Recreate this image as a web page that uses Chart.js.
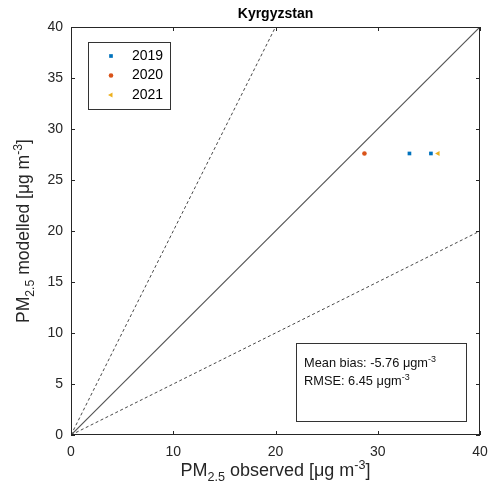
<!DOCTYPE html>
<html>
<head>
<meta charset="utf-8">
<script src="https://cdn.jsdelivr.net/npm/chart.js@4/dist/chart.umd.min.js"></script>
<style>
  html, body { margin: 0; padding: 0; background: #fff; }
  #wrap { width: 488px; height: 495px; position: relative; }
</style>
</head>
<body>
<div id="wrap"><canvas id="c" width="488" height="495"></canvas></div>
<script>
// data
const years = ['2019', '2020', '2021'];
const observed = [[33.1, 35.2], [28.7], [35.9]];
const modelled = [[27.6, 27.6], [27.6], [27.6]];
const colors = ['#0072BD', '#D95319', '#EDB120'];
const markers = ['rect', 'circle', 'triangle'];
const xTicks = [0, 10, 20, 30, 40];
const yTicks = [0, 5, 10, 15, 20, 25, 30, 35, 40];
const refSlopes = [1, 2, 0.5];
const meanBias = '-5.76';
const rmse = '6.45';

const FONT = '"Liberation Sans", Arial, sans-serif';
const AXIS = '#262626';

const refSets = refSlopes.map(s => {
  const xEnd = Math.min(40, 40 / s);
  return {
    type: 'line',
    data: [{x: 0, y: 0}, {x: xEnd, y: xEnd * s}],
    borderColor: s === 1 ? '#555' : '#333',
    borderWidth: s === 1 ? 1.2 : 0.9,
    borderDash: s === 1 ? [] : [3, 2.5],
    pointRadius: 0,
    fill: false,
  };
});

const pointSets = years.map((yr, i) => ({
  type: 'scatter',
  label: yr,
  data: observed[i].map((v, j) => ({x: v, y: modelled[i][j]})),
  backgroundColor: colors[i],
  borderColor: colors[i],
  pointStyle: markers[i],
  rotation: markers[i] === 'triangle' ? -90 : 0,
  pointRadius: markers[i] === 'circle' ? 2.3 : markers[i] === 'triangle' ? 3 : 2.6,
  borderWidth: 0,
}));

// draw text with sub/superscripts
function rich(ctx, parts, x, y, size, align) {
  let w = 0;
  parts.forEach(p => {
    ctx.font = (p.s ? size * 0.7 : size) + 'px ' + FONT;
    p.w = ctx.measureText(p.t).width;
    w += p.w;
  });
  let cx = align === 'center' ? x - w / 2 : x;
  ctx.textAlign = 'left';
  ctx.textBaseline = 'alphabetic';
  parts.forEach(p => {
    ctx.font = (p.s ? size * 0.7 : size) + 'px ' + FONT;
    let dy = p.s === 'sub' ? size * 0.3 : p.s === 'sup' ? -size * 0.4 : 0;
    ctx.fillText(p.t, cx, y + dy);
    cx += p.w;
  });
}

const decor = {
  id: 'decor',
  afterDraw(chart) {
    const ctx = chart.ctx;
    const a = chart.chartArea;
    const xs = chart.scales.x, ys = chart.scales.y;
    ctx.save();
    ctx.strokeStyle = AXIS;
    ctx.lineWidth = 1;
    ctx.strokeRect(a.left + 0.5, a.top + 0.5, a.right - a.left - 1, a.bottom - a.top - 1);
    ctx.beginPath();
    xTicks.forEach(v => {
      const px = Math.round(xs.getPixelForValue(v)) + 0.5;
      ctx.moveTo(px, a.bottom); ctx.lineTo(px, a.bottom - 4);
      ctx.moveTo(px, a.top); ctx.lineTo(px, a.top + 4);
    });
    yTicks.forEach(v => {
      const py = Math.round(ys.getPixelForValue(v)) + 0.5;
      ctx.moveTo(a.left, py); ctx.lineTo(a.left + 4, py);
      ctx.moveTo(a.right, py); ctx.lineTo(a.right - 4, py);
    });
    ctx.stroke();

    // title
    ctx.fillStyle = '#000';
    ctx.font = 'bold 14px ' + FONT;
    ctx.textAlign = 'center';
    ctx.textBaseline = 'alphabetic';
    ctx.fillText('Kyrgyzstan', (a.left + a.right) / 2, 18);

    // axis labels
    ctx.fillStyle = '#262626';
    rich(ctx, [{t: 'PM'}, {t: '2.5', s: 'sub'}, {t: ' observed [\u03bcg m'}, {t: '-3', s: 'sup'}, {t: ']'}],
      (a.left + a.right) / 2, 476, 18, 'center');
    ctx.save();
    ctx.translate(29, (a.top + a.bottom) / 2);
    ctx.rotate(-Math.PI / 2);
    rich(ctx, [{t: 'PM'}, {t: '2.5', s: 'sub'}, {t: ' modelled [\u03bcg m'}, {t: '-3', s: 'sup'}, {t: ']'}],
      0, 0, 17.5, 'center');
    ctx.restore();

    // legend
    ctx.fillStyle = '#fff';
    ctx.fillRect(88, 42, 82, 67);
    ctx.strokeStyle = '#333';
    ctx.strokeRect(88.5, 42.5, 82, 67);
    pointSets.forEach((ds, i) => {
      const ly = 56 + i * 19.5;
      ctx.fillStyle = ds.backgroundColor;
      ctx.strokeStyle = ds.backgroundColor;
      Chart.helpers.drawPoint(ctx, {
        pointStyle: ds.pointStyle, rotation: ds.rotation, radius: ds.pointRadius, borderWidth: 0
      }, 111, ly);
      ctx.fillStyle = '#000';
      ctx.font = '14px ' + FONT;
      ctx.textAlign = 'left';
      ctx.textBaseline = 'middle';
      ctx.fillText(ds.label, 132, ly);
    });

    // stats box
    ctx.fillStyle = '#fff';
    ctx.fillRect(296, 343, 170, 78);
    ctx.strokeStyle = '#333';
    ctx.strokeRect(296.5, 343.5, 170, 78);
    ctx.fillStyle = '#111';
    rich(ctx, [{t: 'Mean bias: ' + meanBias + ' \u03bcgm'}, {t: '-3', s: 'sup'}], 304, 367, 12.8, 'left');
    rich(ctx, [{t: 'RMSE: ' + rmse + ' \u03bcgm'}, {t: '-3', s: 'sup'}], 304, 385, 12.8, 'left');
    ctx.restore();
  }
};

new Chart(document.getElementById('c'), {
  data: { datasets: [...refSets, ...pointSets] },
  options: {
    responsive: false,
    animation: false,
    layout: { padding: { top: 27, right: 8, left: 0, bottom: 0 } },
    plugins: { legend: { display: false }, tooltip: { enabled: false } },
    scales: {
      x: {
        type: 'linear', min: 0, max: 40,
        afterBuildTicks: s => { s.ticks = xTicks.map(v => ({value: v})); },
        afterFit: s => { s.height = 60; s.paddingLeft = 0; s.paddingRight = 0; },
        grid: { display: false, drawTicks: false },
        border: { display: false },
        ticks: { color: AXIS, font: { family: FONT, size: 14 }, padding: 9 },
      },
      y: {
        type: 'linear', min: 0, max: 40,
        afterBuildTicks: s => { s.ticks = yTicks.map(v => ({value: v})); },
        afterFit: s => { s.width = 71; s.paddingTop = 0; s.paddingBottom = 0; },
        grid: { display: false, drawTicks: false },
        border: { display: false },
        ticks: { color: AXIS, font: { family: FONT, size: 14 }, padding: 8 },
      }
    }
  },
  plugins: [decor]
});
</script>
</body>
</html>
